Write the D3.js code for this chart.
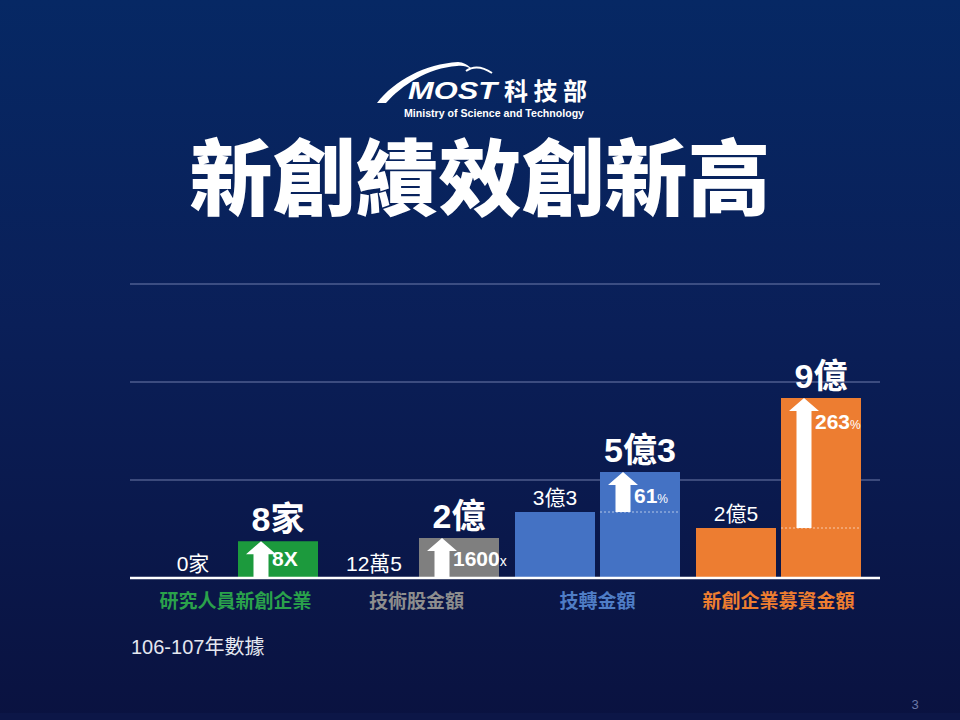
<!DOCTYPE html>
<html>
    <head>
        <meta charset="utf-8" />
        <title>新創績效創新高</title>
        <script src="https://d3js.org/d3.v7.min.js"></script>
        <style>
            * {
                box-sizing: border-box;
                margin: 0;
                padding: 0;
            }

            body {
                overflow: hidden;
                background-color: #0a1440;
            }

            svg {
                display: block;
            }

            text {
                font-family: 'Liberation Sans', 'Noto Sans CJK TC', sans-serif;
            }
        </style>
    </head>
    <body>
        <script>
            // chart data
            const categories = ['研究人員新創企業', '技術股金額', '技轉金額', '新創企業募資金額'];
            const units = ['家', '億', '億', '億'];
            const beforeValues = [0, 0.00125, 3.3, 2.5];
            const afterValues = [8, 2, 5.3, 9];
            const beforeLabels = ['0家', '12萬5', '3億3', '2億5'];
            const afterLabels = ['8家', '2億', '5億3', '9億'];
            const growthMain = ['8X', '1600', '61', '263'];
            const growthSuffix = ['', 'x', '%', '%'];
            const barColors = ['#1c9a3d', '#7f7f7f', '#4472c4', '#ed7d31'];
            const labelColors = ['#2aa24b', '#8e8e8e', '#4f7dc6', '#ef7e30'];
            const gridTicks = [1, 2, 3];

            const width = 960;
            const height = 720;
            const left = 130;
            const right = 880;
            const baseY = 578;
            const topY = 284;

            const svg = d3.select('body').append('svg').attr('width', width).attr('height', height);

            // background
            const defs = svg.append('defs');
            const grad = defs.append('linearGradient').attr('id', 'bg').attr('x1', 0).attr('y1', 0).attr('x2', 0).attr('y2', 1);
            grad.append('stop').attr('offset', '0%').attr('stop-color', '#062864');
            grad.append('stop').attr('offset', '45%').attr('stop-color', '#0a1f58');
            grad.append('stop').attr('offset', '100%').attr('stop-color', '#0a1240');
            svg.append('rect').attr('width', width).attr('height', height).attr('fill', 'url(#bg)');
            svg.append('rect').attr('y', 713).attr('width', width).attr('height', 7).attr('fill', '#0c1647');

            // logo
            const logo = svg.append('g');
            logo.append('path')
                .attr('d', 'M377,103 C395,80 425,64 458,62 C463,62 468,65 472,69 C466,66 462,65 457,66 C428,68 402,85 386,103 Z')
                .attr('fill', '#fff');
            logo.append('path').attr('d', 'M466,71 Q477,63 492,73').attr('fill', 'none').attr('stroke', '#fff').attr('stroke-width', 2);
            logo.append('text')
                .attr('x', 408)
                .attr('y', 99)
                .attr('textLength', 89)
                .attr('lengthAdjust', 'spacingAndGlyphs')
                .attr('font-size', 24)
                .attr('font-weight', 700)
                .attr('font-style', 'italic')
                .attr('fill', '#fff')
                .text('MOST');
            logo.append('text')
                .attr('x', 504)
                .attr('y', 100)
                .attr('textLength', 83)
                .attr('font-size', 24)
                .attr('font-weight', 700)
                .attr('fill', '#fff')
                .text('科技部');
            logo.append('text')
                .attr('x', 404)
                .attr('y', 117)
                .attr('textLength', 180)
                .attr('lengthAdjust', 'spacingAndGlyphs')
                .attr('font-size', 10)
                .attr('font-weight', 700)
                .attr('fill', '#fff')
                .text('Ministry of Science and Technology');

            // title
            svg.append('text')
                .attr('x', 480)
                .attr('y', 209)
                .attr('text-anchor', 'middle')
                .attr('font-size', 83)
                .attr('font-weight', 900)
                .attr('fill', '#fff')
                .style('font-family', "'Noto Sans CJK TC', sans-serif")
                .text('新創績效創新高');

            // scales
            const xGroup = d3.scaleBand().domain(categories).range([145, 869]).paddingInner(16 / 181).paddingOuter(8 / 181);
            const xPair = d3.scaleBand().domain(['before', 'after']).range([0, xGroup.bandwidth()]).paddingInner(5 / 85);
            const yMoney = d3.scaleLinear().domain([0, 14.7]).range([baseY, topY]);
            const yCount = d3.scaleLinear().domain([0, 64]).range([baseY, topY]);
            const yGrid = d3.scaleLinear().domain([0, 3]).range([baseY, topY]);
            const yFor = (i) => (units[i] === '家' ? yCount : yMoney);

            // gridlines
            svg.append('g')
                .selectAll('line')
                .data(gridTicks)
                .join('line')
                .attr('x1', left)
                .attr('x2', right)
                .attr('y1', (d) => yGrid(d))
                .attr('y2', (d) => yGrid(d))
                .attr('stroke', '#8794c0')
                .attr('stroke-opacity', 0.8)
                .attr('stroke-width', 1);

            const rows = categories.map((c, i) => ({
                cat: c,
                i,
                x0: xGroup(c) + xPair('before'),
                x1: xGroup(c) + xPair('after'),
                yb: yFor(i)(beforeValues[i]),
                ya: yFor(i)(afterValues[i]),
            }));
            const bw = xPair.bandwidth();

            const groups = svg.append('g').selectAll('g').data(rows).join('g');

            // before bars
            groups.append('rect')
                .attr('x', (d) => d.x0)
                .attr('y', (d) => d.yb)
                .attr('width', bw)
                .attr('height', (d) => baseY - d.yb)
                .attr('fill', (d) => barColors[d.i]);

            // after bars
            groups.append('rect')
                .attr('x', (d) => d.x1)
                .attr('y', (d) => d.ya)
                .attr('width', bw)
                .attr('height', (d) => baseY - d.ya)
                .attr('fill', (d) => barColors[d.i]);

            // dotted level of previous value
            groups.filter((d) => baseY - d.yb > 3)
                .append('line')
                .attr('x1', (d) => d.x1)
                .attr('x2', (d) => d.x1 + bw)
                .attr('y1', (d) => d.yb)
                .attr('y2', (d) => d.yb)
                .attr('stroke', '#fff')
                .attr('stroke-opacity', 0.6)
                .attr('stroke-width', 1)
                .attr('stroke-dasharray', '2,2');

            // growth arrows
            groups.append('path')
                .attr('d', (d) => {
                    const cx = d.x1 + 23;
                    const y0 = d.yb;
                    const y1 = d.ya;
                    return `M${cx - 7.5},${y0} L${cx - 7.5},${y1 + 13} L${cx - 15},${y1 + 13} L${cx},${y1} L${cx + 15},${y1 + 13} L${cx + 7.5},${y1 + 13} L${cx + 7.5},${y0} Z`;
                })
                .attr('fill', '#fff');

            // growth labels
            const gl = groups.append('text')
                .attr('x', (d) => d.x1 + 34)
                .attr('y', (d) => Math.min(d.ya + 31, baseY - 12))
                .attr('fill', '#fff')
                .attr('font-weight', 700)
                .attr('font-size', 21);
            gl.append('tspan').text((d) => growthMain[d.i]);
            gl.append('tspan')
                .attr('font-size', (d) => (growthSuffix[d.i] === '%' ? 12 : 14))
                .attr('font-weight', 400)
                .text((d) => growthSuffix[d.i]);

            // before value labels
            groups.append('text')
                .attr('x', (d) => d.x0 + bw / 2)
                .attr('y', (d) => d.yb - 7)
                .attr('text-anchor', 'middle')
                .attr('fill', '#fff')
                .attr('font-size', 21)
                .text((d) => beforeLabels[d.i]);

            // after value labels
            groups.append('text')
                .attr('x', (d) => d.x1 + bw / 2)
                .attr('y', (d) => d.ya - 10)
                .attr('text-anchor', 'middle')
                .attr('fill', '#fff')
                .attr('font-size', 34)
                .attr('font-weight', 700)
                .text((d) => afterLabels[d.i]);

            // category labels
            groups.append('text')
                .attr('x', (d) => xGroup(d.cat) + xGroup.bandwidth() / 2)
                .attr('y', 608)
                .attr('text-anchor', 'middle')
                .attr('fill', (d) => labelColors[d.i])
                .attr('font-size', 19)
                .attr('font-weight', 700)
                .text((d) => d.cat);

            // baseline
            svg.append('line')
                .attr('x1', left)
                .attr('x2', right)
                .attr('y1', baseY)
                .attr('y2', baseY)
                .attr('stroke', '#fff')
                .attr('stroke-width', 2.5);

            // footnote and page number
            svg.append('text').attr('x', 131).attr('y', 654).attr('fill', '#e4e7f0').attr('font-size', 20).text('106-107年數據');
            svg.append('text').attr('x', 915).attr('y', 709).attr('text-anchor', 'middle').attr('fill', '#6b78a8').attr('font-size', 13).text('3');
        </script>
    </body>
</html>
